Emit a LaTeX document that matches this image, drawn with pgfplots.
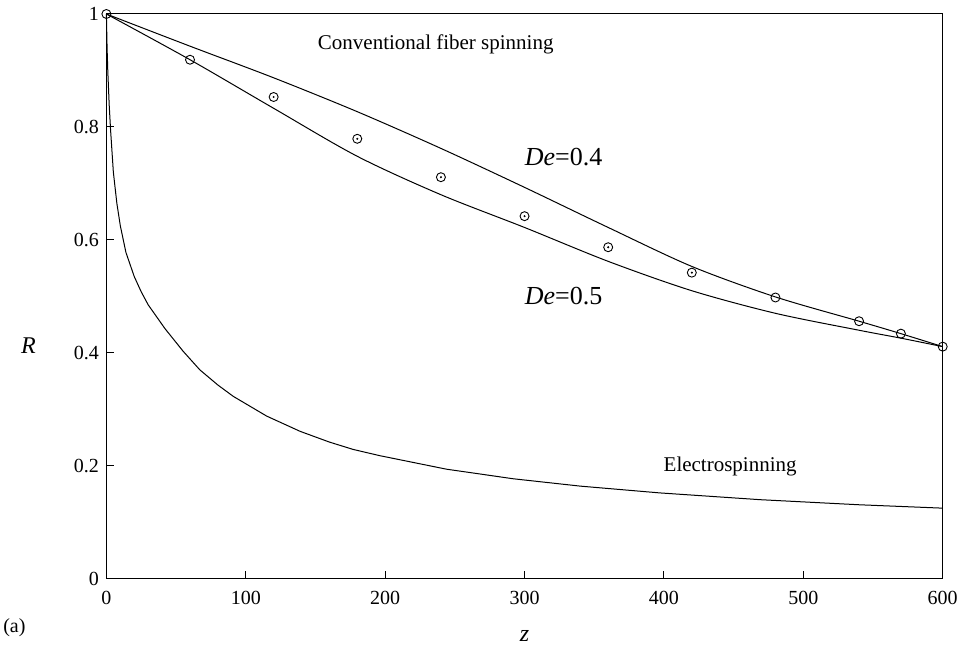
\documentclass[border=0pt]{standalone}
\usepackage{fontspec}
\setmainfont{Liberation Serif}
\usepackage{pgfplots}
\pgfplotsset{compat=1.18}
\begin{document}
\begin{tikzpicture}
\begin{axis}[
  scale only axis, width=836.7pt, height=565pt,
  xmin=0, xmax=600, ymin=0, ymax=1,
  xtick={0,100,200,300,400,500,600},
  ytick={0,0.2,0.4,0.6,0.8,1},
  yticklabels={0,0.2,0.4,0.6,0.8,1},
  tick align=inside, tick pos=left,
  major tick length=8pt,
  tick style={line width=1pt, black},
  tick label style={font=\fontsize{20}{24}\selectfont},
  xticklabel style={yshift=-9pt},
  yticklabel style={xshift=-4pt},
  /pgf/number format/assume math mode=true,
  axis line style={line width=1pt},
  clip=false,
]
% invisible frame fixing the page size
\path[draw=none] ([xshift=-106pt,yshift=-71pt]rel axis cs:0,0) rectangle ([xshift=20.3pt,yshift=14pt]rel axis cs:1,1);

% De = 0.4 (upper curve)
\addplot[black, line width=1pt, smooth] coordinates {
(0,1) (60,0.943) (120,0.887) (180,0.827) (240,0.762) (300,0.693) (360,0.622) (420,0.553) (480,0.499) (540,0.456) (570,0.434) (600,0.411)};

% De = 0.5 (lower curve)
\addplot[black, line width=1pt, smooth] coordinates {
(0,1) (60,0.919) (120,0.833) (180,0.748) (240,0.680) (300,0.622) (360,0.562) (420,0.510) (480,0.470) (540,0.440) (570,0.426) (600,0.411)};

% Electrospinning
\addplot[black, line width=1pt] coordinates {
(0,1) (0.25,0.97) (0.5,0.94) (1,0.90) (2,0.84) (3,0.795) (5,0.72) (7.5,0.665) (10,0.625) (14,0.578) (20,0.535) (25,0.508) (30,0.485) (42,0.443) (55,0.403) (67,0.370) (80,0.343) (91,0.323) (115,0.288) (139,0.261) (160,0.242) (177,0.229) (196,0.218) (244,0.194) (292,0.177) (340,0.164) (397,0.152) (469,0.140) (540,0.131) (600,0.125)};

% experimental points
\addplot[only marks, mark=o, mark size=4.5pt, mark options={line width=0.9pt, black}] coordinates {
(0,1) (60,0.919) (120,0.853) (180,0.779) (240,0.711) (300,0.642) (360,0.587) (420,0.542) (480,0.498) (540,0.456) (570,0.434) (600,0.411)};
\addplot[only marks, mark=*, mark size=0.8pt, black] coordinates {
(120,0.853) (180,0.779) (240,0.711) (300,0.642) (360,0.587) (420,0.542)};

\node[font=\fontsize{21}{25}\selectfont] at (axis cs:236.3,0.947) {Conventional fiber spinning};
\node[font=\fontsize{26}{30}\selectfont] at (axis cs:328,0.747) {\textit{De}=0.4};
\node[font=\fontsize{26}{30}\selectfont] at (axis cs:328,0.501) {\textit{De}=0.5};
\node[font=\fontsize{21}{25}\selectfont] at (axis cs:447.5,0.198) {Electrospinning};

\node[font=\fontsize{24}{28}\selectfont] at ([xshift=-78pt]axis cs:0,0.412) {\textit{R}};
\node[font=\fontsize{24}{28}\selectfont] at ([yshift=-57pt]axis cs:300,0) {\textit{z}};
\node[font=\fontsize{20}{24}\selectfont] at ([xshift=-92pt,yshift=-49pt]axis cs:0,0) {(a)};
\end{axis}
\end{tikzpicture}
\end{document}
